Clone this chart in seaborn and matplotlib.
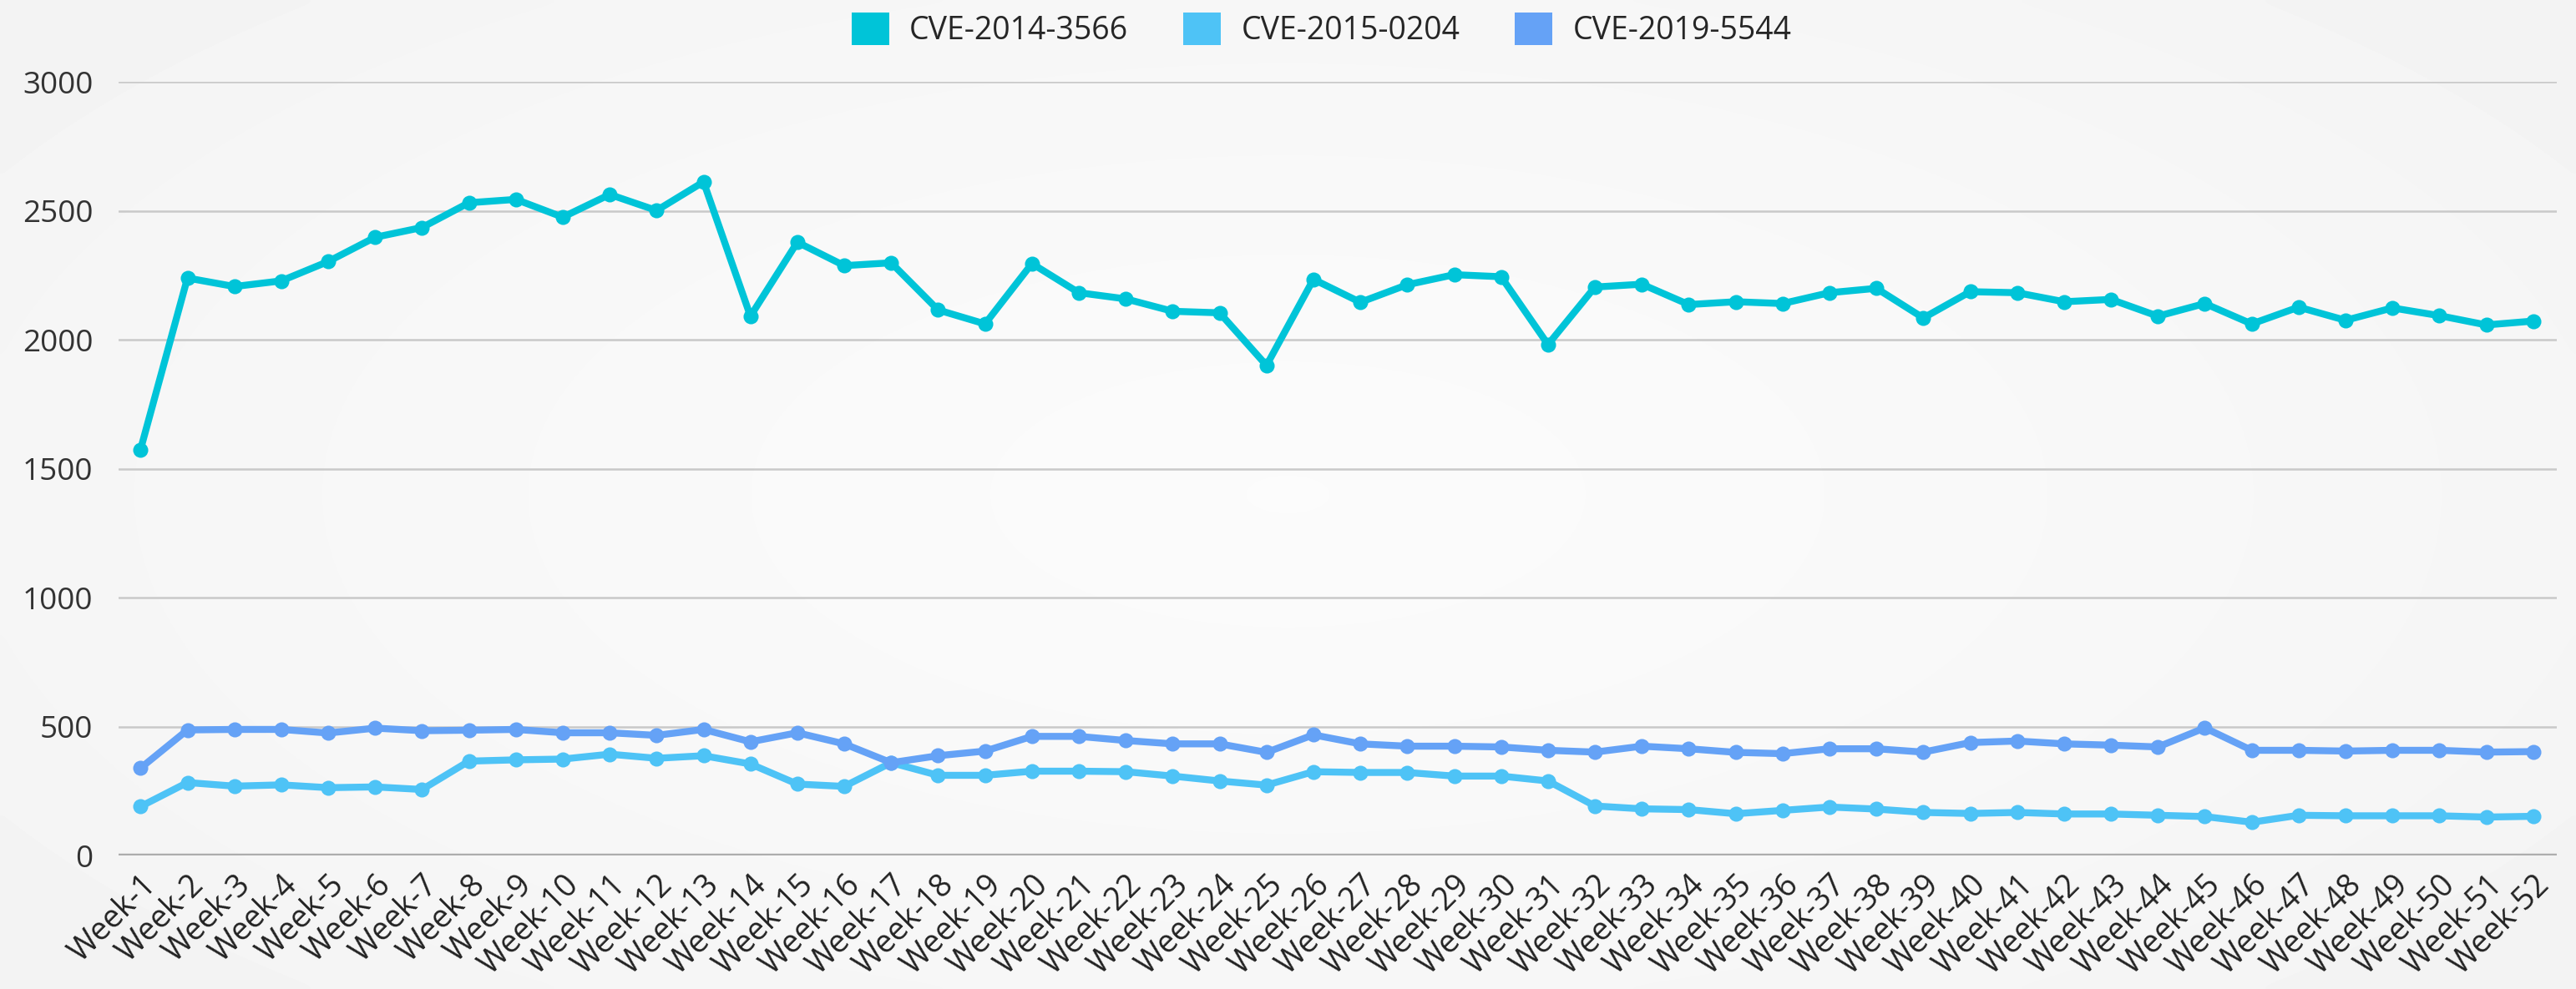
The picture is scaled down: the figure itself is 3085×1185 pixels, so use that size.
import matplotlib

matplotlib.use("Agg")
import matplotlib.pyplot as plt
import numpy as np
import pandas as pd
import seaborn as sns
from matplotlib.patches import Patch

weeks = [f"Week-{i}" for i in range(1, 53)]

cve_2014_3566 = [
    1575, 2240, 2207, 2229, 2304, 2398, 2436, 2532, 2545, 2476,
    2564, 2502, 2613, 2092, 2379, 2288, 2299, 2116, 2062, 2296,
    2183, 2159, 2111, 2105, 1901, 2235, 2146, 2214, 2253, 2245,
    1982, 2205, 2216, 2137, 2148, 2141, 2183, 2200, 2085, 2187,
    2183, 2148, 2157, 2092, 2141, 2062, 2127, 2076, 2124, 2094, 2058, 2073,
]
cve_2015_0204 = [
    190, 283, 269, 274, 263, 266, 256, 366, 371, 374,
    393, 377, 387, 355, 277, 268, 360, 311, 311, 327,
    327, 325, 308, 289, 273, 325, 322, 322, 308, 308,
    289, 192, 181, 178, 162, 175, 188, 180, 167, 163,
    167, 161, 161, 156, 151, 129, 156, 154, 154, 154, 149, 152,
]
cve_2019_5544 = [
    339, 487, 489, 489, 475, 494, 484, 486, 489, 476,
    476, 466, 489, 441, 476, 433, 360, 387, 405, 462,
    462, 446, 433, 433, 400, 468, 433, 424, 424, 421,
    408, 401, 424, 414, 400, 395, 414, 414, 401, 438,
    444, 433, 428, 421, 495, 408, 408, 405, 408, 408, 401, 403,
]

series_names = ["CVE-2014-3566", "CVE-2015-0204", "CVE-2019-5544"]
colors = ["#00c4d8", "#4ec3f6", "#65a2f6"]
palette = dict(zip(series_names, colors))

df = pd.concat(
    [
        pd.DataFrame({"week": weeks, "count": vals, "cve": name})
        for name, vals in zip(series_names, [cve_2014_3566, cve_2015_0204, cve_2019_5544])
    ],
    ignore_index=True,
)

sns.set_style("white")
plt.rcParams["font.family"] = ["Open Sans", "DejaVu Sans"]

fig = plt.figure(figsize=(15.425, 5.925), dpi=200)
fig.patch.set_facecolor("#f1f1f1")

# soft light background, brighter towards the middle
bg = fig.add_axes([0, 0, 1, 1], zorder=-5)
gx, gy = np.meshgrid(np.linspace(-1, 1, 400), np.linspace(-1, 1, 160))
glow = np.clip(1 - np.sqrt((gx * 0.7) ** 2 + (gy * 0.6) ** 2), 0, 1) ** 0.6
bg.imshow(0.94 + 0.045 * glow, cmap="gray", vmin=0, vmax=1, aspect="auto",
          extent=[0, 1, 0, 1], interpolation="bicubic")
bg.axis("off")

ax = fig.add_axes([0.046, 0.135, 0.9465, 0.782])
ax.set_facecolor("none")

sns.lineplot(
    data=df, x="week", y="count", hue="cve", palette=palette,
    marker="o", markersize=6.5, markeredgewidth=0, linewidth=3.0,
    sort=False, legend=False, ax=ax, zorder=3,
)

ax.set_ylim(0, 3000)
ax.set_xlim(-0.47, 51.5)
ax.set_yticks(range(0, 3001, 500))
ax.yaxis.grid(True, color="#c9c9c9", linewidth=0.9)
ax.axhline(0, color="#adadad", linewidth=1.6, zorder=2)
ax.set_axisbelow(True)
for s in ax.spines.values():
    s.set_visible(False)

ax.set_xlabel("")
ax.set_ylabel("")
ax.tick_params(axis="y", length=0, pad=11, labelsize=13.3, labelcolor="#333333")
ax.tick_params(axis="x", length=0, pad=6, labelsize=13.5, labelcolor="#222222")
plt.setp(ax.get_xticklabels(), rotation=45, ha="right", rotation_mode="anchor")

handles = [Patch(facecolor=c, edgecolor="none") for c in colors]
fig.legend(
    handles, series_names, loc="center", bbox_to_anchor=(0.513, 0.97), ncol=3,
    frameon=False, fontsize=13.5, handlelength=1.2, handleheight=1.2,
    handletextpad=0.65, columnspacing=1.75,
)

fig.savefig("out.png", dpi=200, facecolor=fig.get_facecolor())
